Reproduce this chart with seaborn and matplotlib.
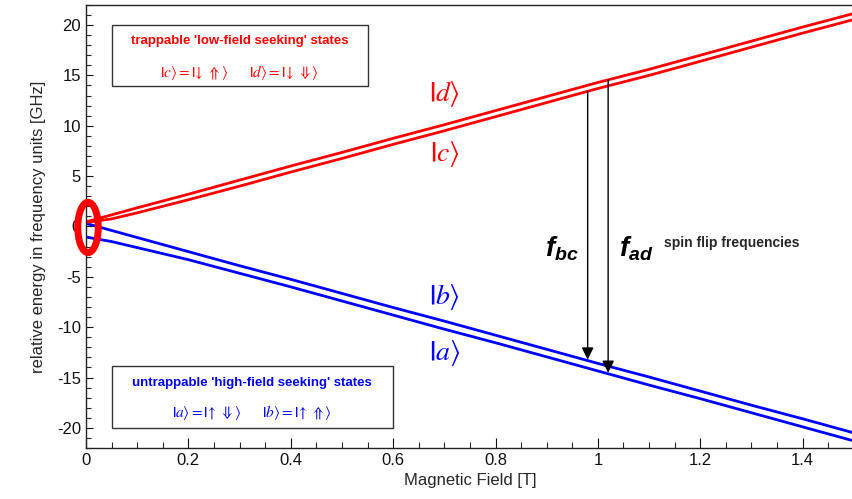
import matplotlib
matplotlib.use("Agg")
import matplotlib.pyplot as plt
import matplotlib.patches as mpatches
from matplotlib.ticker import MultipleLocator
import numpy as np
import pandas as pd
import seaborn as sns

# Values (GHz vs Tesla)
field = [0.0, 0.05, 0.1, 0.2, 0.3, 0.4, 0.5, 0.6, 0.7, 0.8, 0.9, 1.0, 1.1, 1.2, 1.3, 1.4, 1.5]
state_d = [0.45, 1.15, 1.85, 3.2, 4.6, 6.0, 7.35, 8.75, 10.1, 11.5, 12.9, 14.3, 15.6, 17.0, 18.4, 19.8, 21.15]
state_c = [0.4, 0.75, 1.35, 2.65, 4.0, 5.4, 6.75, 8.15, 9.5, 10.9, 12.3, 13.7, 15.0, 16.4, 17.8, 19.2, 20.55]
state_b = [0.3, -0.4, -1.1, -2.5, -3.9, -5.25, -6.65, -8.05, -9.4, -10.8, -12.2, -13.6, -14.95, -16.35, -17.75, -19.1, -20.5]
state_a = [-1.05, -1.5, -2.1, -3.3, -4.65, -6.0, -7.4, -8.8, -10.2, -11.55, -12.95, -14.35, -15.75, -17.1, -18.5, -19.9, -21.3]

states = ["a", "b", "c", "d"]
state_colors = {"a": "#0000ff", "b": "#0000ff", "c": "#ff0000", "d": "#ff0000"}
x_ticks = [0, 0.2, 0.4, 0.6, 0.8, 1.0, 1.2, 1.4]
x_tick_labels = ["0", "0.2", "0.4", "0.6", "0.8", "1", "1.2", "1.4"]
y_ticks = [-20, -15, -10, -5, 0, 5, 10, 15, 20]

df = pd.DataFrame({
    "field": field * 4,
    "energy": state_a + state_b + state_c + state_d,
    "state": ["a"] * len(field) + ["b"] * len(field) + ["c"] * len(field) + ["d"] * len(field),
})

sns.set_style("ticks")
plt.rcParams["font.family"] = ["Liberation Sans", "DejaVu Sans"]
plt.rcParams["axes.unicode_minus"] = False
plt.rcParams["mathtext.fontset"] = "custom"
plt.rcParams["mathtext.it"] = "Liberation Sans:italic:bold"
plt.rcParams["mathtext.rm"] = "Liberation Sans:bold"
plt.rcParams["mathtext.bf"] = "Liberation Sans:bold"

fig = plt.figure(figsize=(8.53, 4.99), dpi=100)
ax = fig.add_axes([0.1008, 0.1022, 0.9002, 0.888])

sns.lineplot(data=df, x="field", y="energy", hue="state", hue_order=states,
             palette=state_colors, linewidth=2.0, legend=False, ax=ax)

ax.set_xlim(0, 1.5)
ax.set_ylim(-22, 22)
ax.set_xticks(x_ticks)
ax.set_xticklabels(x_tick_labels)
ax.set_yticks(y_ticks)
ax.xaxis.set_minor_locator(MultipleLocator(0.05))
ax.yaxis.set_minor_locator(MultipleLocator(1))
ax.tick_params(axis="both", which="major", direction="in", length=7, width=0.8, labelsize=12, colors="#111111")
ax.tick_params(axis="both", which="minor", direction="in", length=4, width=0.8)
ax.tick_params(axis="y", which="major", length=5)
ax.tick_params(axis="y", which="minor", length=3.5)
for side in ["left", "bottom", "top"]:
    ax.spines[side].set_linewidth(1.0)
    ax.spines[side].set_color("#222222")
ax.spines["right"].set_visible(False)
ax.set_xlabel("Magnetic Field [T]", fontsize=12, labelpad=4)
ax.set_ylabel("relative energy in frequency units [GHz]", fontsize=12, labelpad=8)

# state labels
ax.text(0.70, 13.2, r"$\mathbf{|}d\rangle$", color="#ff0000", fontsize=20, ha="center", va="center", math_fontfamily="stix")
ax.text(0.70, 7.2, r"$\mathbf{|}c\rangle$", color="#ff0000", fontsize=20, ha="center", va="center", math_fontfamily="stix")
ax.text(0.70, -7.0, r"$\mathbf{|}b\rangle$", color="#0000ff", fontsize=20, ha="center", va="center", math_fontfamily="stix")
ax.text(0.70, -12.6, r"$\mathbf{|}a\rangle$", color="#0000ff", fontsize=20, ha="center", va="center", math_fontfamily="stix")

# spin flip arrows
b_bc = 0.98
b_ad = 1.02
ax.annotate("", xy=(b_bc, np.interp(b_bc, field, state_b) + 0.1), xytext=(b_bc, np.interp(b_bc, field, state_c)),
            arrowprops=dict(arrowstyle="-|>", color="black", lw=1.0, mutation_scale=18, shrinkA=0, shrinkB=0))
ax.annotate("", xy=(b_ad, np.interp(b_ad, field, state_a) + 0.1), xytext=(b_ad, np.interp(b_ad, field, state_d)),
            arrowprops=dict(arrowstyle="-|>", color="black", lw=1.0, mutation_scale=18, shrinkA=0, shrinkB=0))
ax.text(0.93, -2.2, r"$f_{bc}$", fontsize=20, ha="center", va="center", color="black")
ax.text(1.075, -2.2, r"$f_{ad}$", fontsize=20, ha="center", va="center", color="black")
ax.text(1.13, -1.6, "spin flip frequencies", fontsize=10, fontweight="bold", ha="left", va="center")

# boxes
ax.add_patch(mpatches.Rectangle((0.05, 13.9), 0.50, 6.15, fill=False, edgecolor="#333333", lw=1.0))
ax.text(0.30, 18.4, "trappable 'low-field seeking' states", color="#ff0000", fontsize=9.5,
        fontweight="bold", ha="center", va="center")
ax.text(0.30, 15.3, r"$\mathbf{|}c\rangle = \mathbf{|}\!\downarrow\,\Uparrow\rangle\quad\quad\mathbf{|}d\rangle = \mathbf{|}\!\downarrow\,\Downarrow\rangle$",
        color="#ff0000", fontsize=11, ha="center", va="center", math_fontfamily="stix")

ax.add_patch(mpatches.Rectangle((0.05, -20.0), 0.55, 6.15, fill=False, edgecolor="#333333", lw=1.0))
ax.text(0.325, -15.5, "untrappable 'high-field seeking' states", color="#0000ff", fontsize=9.5,
        fontweight="bold", ha="center", va="center")
ax.text(0.325, -18.5, r"$\mathbf{|}a\rangle = \mathbf{|}\!\uparrow\,\Downarrow\rangle\quad\quad\mathbf{|}b\rangle = \mathbf{|}\!\uparrow\,\Uparrow\rangle$",
        color="#0000ff", fontsize=11, ha="center", va="center", math_fontfamily="stix")

# red ring marking zero field
ax.add_patch(mpatches.Ellipse((0.004, -0.1), 0.040, 5.0, fill=False, edgecolor="#ff0000", lw=5, clip_on=False, zorder=5))

fig.savefig("out.png", dpi=100)
